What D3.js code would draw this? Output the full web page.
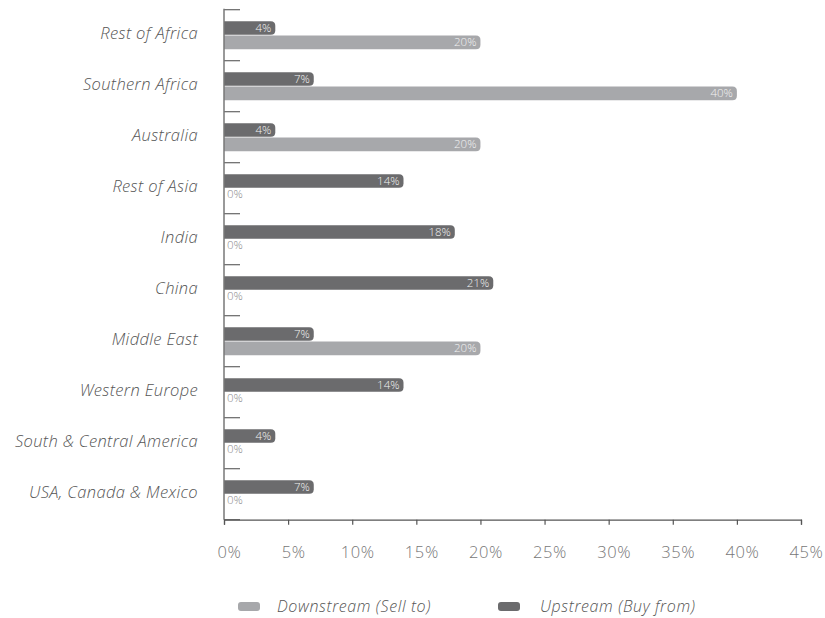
<!DOCTYPE html>
<html>
<head>
<meta charset="utf-8">
<script src="https://cdn.jsdelivr.net/npm/d3@7"></script>
<style>
  html, body { margin: 0; padding: 0; background: #fff; }
  svg { display: block; font-family: "Open Sans", Lato, sans-serif; }
</style>
</head>
<body>
<svg id="chart" width="825" height="618"></svg>
<script>
// Regions, top to bottom
const regions = [
  "Rest of Africa", "Southern Africa", "Australia", "Rest of Asia", "India",
  "China", "Middle East", "Western Europe", "South & Central America", "USA, Canada & Mexico"
];
// Share of trade per region (%)
const upstream   = [4, 7, 4, 14, 18, 21, 7, 14, 4, 7];
const downstream = [20, 40, 20, 0, 0, 0, 20, 0, 0, 0];
const xTicks = [0, 5, 10, 15, 20, 25, 30, 35, 40, 45];

const seriesKeys = ["up", "down"];
const seriesNames = { down: "Downstream (Sell to)", up: "Upstream (Buy from)" };
const colors = { up: "#6b6b6d", down: "#a7a8ab" };
const FONT = "'Open Sans', Lato, sans-serif";

const svg = d3.select("#chart");
const plotLeft = 224, plotRight = 801, plotTop = 9.7, plotBottom = 519.7;

const x = d3.scaleLinear().domain([0, 45]).range([plotLeft, plotRight]);
const y0 = d3.scaleBand().domain(regions).range([plotTop, plotBottom]).paddingInner(0.45).paddingOuter(0.225);
const y1 = d3.scaleBand().domain(seriesKeys).range([0, y0.bandwidth()]).paddingInner(0.05);

const rows = regions.map((r, i) => ({ region: r, up: upstream[i], down: downstream[i] }));

// Bar with rounded right end
function barPath(x0, x1, yTop, h, r) {
  const w = x1 - x0;
  if (w <= 0) return "";
  r = Math.min(r, w, h / 2);
  return `M${x0},${yTop}H${x1 - r}Q${x1},${yTop} ${x1},${yTop + r}` +
         `V${yTop + h - r}Q${x1},${yTop + h} ${x1 - r},${yTop + h}H${x0}Z`;
}

// Band separator ticks on the category axis
const step = y0.step();
const sepY = d3.range(regions.length + 1).map(i => plotTop + i * step);
svg.append("g").selectAll("line").data(sepY).join("line")
  .attr("x1", plotLeft).attr("x2", plotLeft + 16)
  .attr("y1", d => d).attr("y2", d => d)
  .attr("stroke", "#666").attr("stroke-width", 1.2);

// Bars
const g = svg.append("g");
rows.forEach(d => {
  seriesKeys.forEach(k => {
    const v = d[k];
    const yy = y0(d.region) + y1(k);
    const h = y1.bandwidth();
    if (v > 0) {
      g.append("path")
        .attr("d", barPath(x(0), x(v), yy, h, 4.5))
        .attr("fill", colors[k]);
      g.append("text")
        .attr("x", x(v) - 4).attr("y", yy + h / 2)
        .attr("dy", "0.35em").attr("text-anchor", "end")
        .attr("font-size", 11.5).attr("font-weight", 300)
        .attr("fill", "#f2f2f2")
        .text(v + "%");
    } else {
      g.append("text")
        .attr("x", x(0) + 3).attr("y", yy + h / 2 - 1)
        .attr("dy", "0.35em").attr("text-anchor", "start")
        .attr("font-size", 11.5).attr("font-weight", 300)
        .attr("fill", "#8c8c8c")
        .text(v + "%");
    }
  });
});

// Category axis line
svg.append("line")
  .attr("x1", plotLeft).attr("x2", plotLeft).attr("y1", plotTop - 1).attr("y2", plotBottom)
  .attr("stroke", "#777").attr("stroke-width", 1.5);

// Category labels
svg.append("g").selectAll("text").data(regions).join("text")
  .attr("x", 198)
  .attr("y", d => y0(d) + y0.bandwidth() / 2 - 2)
  .attr("dy", "0.35em")
  .attr("text-anchor", "end")
  .attr("font-size", 16.5).attr("letter-spacing", 0.35)
  .attr("font-style", "italic").attr("font-weight", 300)
  .attr("fill", "#555")
  .text(d => d);

// Value axis
const xAxis = svg.append("g")
  .attr("transform", `translate(0,${plotBottom})`)
  .call(d3.axisBottom(x).tickValues(xTicks).tickSize(5).tickPadding(22).tickFormat(d => d + "%"));
xAxis.select(".domain").attr("stroke", "#555").attr("stroke-width", 1.2);
xAxis.selectAll(".tick line").attr("stroke", "#555").attr("stroke-width", 1.2);
xAxis.selectAll(".tick text")
  .attr("dx", 5)
  .attr("font-family", FONT)
  .attr("font-size", 16.5).attr("letter-spacing", 0.6)
  .attr("font-weight", 300).attr("fill", "#777");

// Legend
const legendItems = [
  { key: "down", sx: 238, tx: 277 },
  { key: "up", sx: 498, tx: 540 }
];
const lg = svg.append("g");
legendItems.forEach(it => {
  lg.append("rect")
    .attr("x", it.sx).attr("y", 602).attr("width", 22).attr("height", 9)
    .attr("rx", 3).attr("fill", colors[it.key]);
  lg.append("text")
    .attr("x", it.tx).attr("y", 606).attr("dy", "0.35em")
    .attr("font-size", 16).attr("letter-spacing", 0.6)
    .attr("font-style", "italic").attr("font-weight", 300)
    .attr("fill", "#555")
    .text(seriesNames[it.key]);
});
</script>
</body>
</html>
